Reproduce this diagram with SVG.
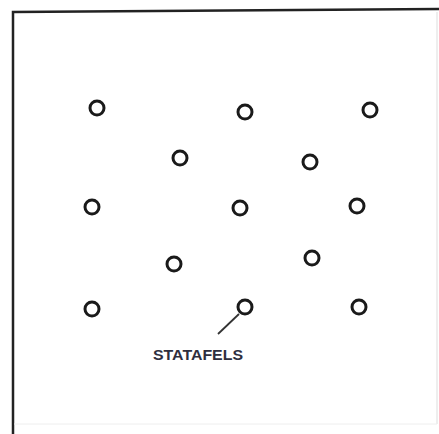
<svg xmlns="http://www.w3.org/2000/svg" width="439" height="434" viewBox="0 0 439 434">
<style>
.h{fill:none;stroke:#1a1a1a;stroke-width:3}
.f{fill:none;stroke:#222;stroke-width:2.5}
.l{fill:none;stroke:#333;stroke-width:1.8}
.t{font-family:"Liberation Sans",Arial,sans-serif;font-weight:bold;font-size:14px;fill:#2e2e3e}
</style>
<rect width="439" height="434" fill="#fff"/>
<g id="frame">
<path class="f" d="M13,434 L13,12 L439,9"/>
<path d="M437,12 L437,424" stroke="#ddd" stroke-width="1" fill="none"/>
<path d="M14,424 L437,424" stroke="#eee" stroke-width="1" fill="none"/>
</g>
<g id="holes">
<circle id="h1" class="h" cx="97" cy="108" r="7"/>
<circle id="h2" class="h" cx="245" cy="112" r="7"/>
<circle id="h3" class="h" cx="370" cy="110" r="7"/>
<circle id="h4" class="h" cx="180" cy="158" r="7"/>
<circle id="h5" class="h" cx="310" cy="162" r="7"/>
<circle id="h6" class="h" cx="92" cy="207" r="7"/>
<circle id="h7" class="h" cx="240" cy="208" r="7"/>
<circle id="h8" class="h" cx="357" cy="206" r="7"/>
<circle id="h9" class="h" cx="174" cy="264" r="7"/>
<circle id="h10" class="h" cx="312" cy="258" r="7"/>
<circle id="h11" class="h" cx="92" cy="309" r="7"/>
<circle id="h12" class="h" cx="245" cy="307" r="7"/>
<circle id="h13" class="h" cx="359" cy="307" r="7"/>
</g>
<g id="connectors">
<path class="l" d="M218,334 L239,314"/>
</g>
<g id="label">
<text class="t" x="198" y="360" text-anchor="middle" textLength="90" lengthAdjust="spacingAndGlyphs">STATAFELS</text>
</g>
</svg>
